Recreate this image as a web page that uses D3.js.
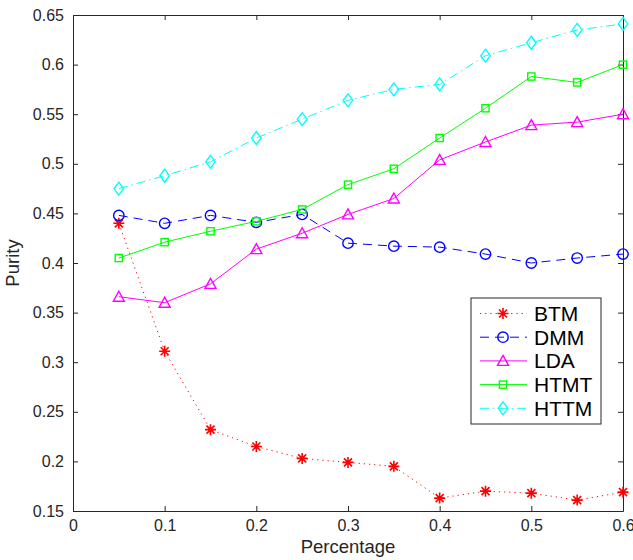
<!DOCTYPE html>
<html>
<head>
<meta charset="utf-8">
<script src="https://cdn.jsdelivr.net/npm/d3@7"></script>
<style>
  body { margin: 0; background: #fff; }
  svg { font-family: "Liberation Sans", Arial, Helvetica, sans-serif; }
</style>
</head>
<body>
<div id="chart"></div>
<script>
const percentages = [0.05, 0.1, 0.15, 0.2, 0.25, 0.3, 0.35, 0.4, 0.45, 0.5, 0.55, 0.6];
const btm  = [0.440, 0.311, 0.232, 0.215, 0.203, 0.199, 0.195, 0.163, 0.170, 0.168, 0.161, 0.169];
const dmm  = [0.448, 0.440, 0.448, 0.441, 0.449, 0.420, 0.417, 0.416, 0.409, 0.400, 0.405, 0.409];
const lda  = [0.366, 0.360, 0.379, 0.414, 0.430, 0.449, 0.465, 0.504, 0.522, 0.539, 0.542, 0.550];
const htmt = [0.405, 0.421, 0.432, 0.442, 0.454, 0.479, 0.495, 0.526, 0.556, 0.588, 0.582, 0.600];
const httm = [0.475, 0.488, 0.502, 0.526, 0.545, 0.564, 0.575, 0.580, 0.609, 0.622, 0.635, 0.641];
const seriesNames = ["BTM", "DMM", "LDA", "HTMT", "HTTM"];
const xTicks = [0, 0.1, 0.2, 0.3, 0.4, 0.5, 0.6];
const yTicks = [0.15, 0.2, 0.25, 0.3, 0.35, 0.4, 0.45, 0.5, 0.55, 0.6, 0.65];

const series = [
  { name: "BTM",  values: btm,  color: "#ff0000", dash: "1.2,4",        marker: "star" },
  { name: "DMM",  values: dmm,  color: "#0000ff", dash: "9,6",          marker: "circle" },
  { name: "LDA",  values: lda,  color: "#ff00ff", dash: null,           marker: "triangle" },
  { name: "HTMT", values: htmt, color: "#00ff00", dash: null,           marker: "square" },
  { name: "HTTM", values: httm, color: "#00ffff", dash: "9,4,1.5,4",    marker: "diamond" }
];

const margin = { top: 15, right: 10, bottom: 49, left: 73 };
const width = 633 - margin.left - margin.right;
const height = 560 - margin.top - margin.bottom;

const svg = d3.select("#chart")
  .append("svg")
  .attr("width", 633)
  .attr("height", 560)
  .append("g")
  .attr("transform", "translate(" + margin.left + "," + margin.top + ")");

const xScale = d3.scaleLinear().domain([0, 0.6]).range([0, width]);
const yScale = d3.scaleLinear().domain([0.15, 0.65]).range([height, 0]);

const axisColor = "#262626";

// axes with inward ticks on all four sides
const axes = [
  { axis: d3.axisBottom(xScale).tickValues(xTicks).tickFormat(d3.format("")), t: "translate(0," + height + ")", labels: true },
  { axis: d3.axisTop(xScale).tickValues(xTicks), t: "translate(0,0)", labels: false },
  { axis: d3.axisLeft(yScale).tickValues(yTicks).tickFormat(d3.format("")), t: "translate(0,0)", labels: true },
  { axis: d3.axisRight(yScale).tickValues(yTicks), t: "translate(" + width + ",0)", labels: false }
];
axes.forEach(a => {
  const g = svg.append("g")
    .attr("transform", a.t)
    .call(a.axis.tickSizeInner(-5).tickSizeOuter(0).tickPadding(9));
  g.select(".domain").attr("stroke", axisColor);
  g.selectAll(".tick line").attr("stroke", axisColor);
  g.selectAll(".tick text")
    .attr("fill", axisColor)
    .style("font-size", "16px")
    .style("display", a.labels ? null : "none");
});

const line = d3.line()
  .x((d, i) => xScale(percentages[i]))
  .y(d => yScale(d));

function drawMarker(g, type, color) {
  if (type === "circle") {
    g.append("circle").attr("r", 5.2);
  } else if (type === "square") {
    g.append("rect").attr("x", -3.6).attr("y", -3.6).attr("width", 7.2).attr("height", 7.2);
  } else if (type === "triangle") {
    g.append("path").attr("d", "M0,-5.5L5.5,4.5L-5.5,4.5Z");
  } else if (type === "diamond") {
    g.append("path").attr("d", "M0,-6.5L4.8,0L0,6.5L-4.8,0Z");
  } else if (type === "star") {
    g.append("path").attr("d", "M-5.5,0L5.5,0M0,-5.5L0,5.5M-4,-4L4,4M-4,4L4,-4").attr("stroke-width", 1.6);
  }
  g.selectAll("*")
    .attr("fill", "none")
    .attr("stroke", color)
    .filter(function() { return !this.getAttribute("stroke-width"); })
    .attr("stroke-width", 1.4);
}

series.forEach(s => {
  svg.append("path")
    .datum(s.values)
    .attr("d", line)
    .attr("fill", "none")
    .attr("stroke", s.color)
    .attr("stroke-width", 1)
    .attr("stroke-dasharray", s.dash);

  svg.selectAll(".mk-" + s.name)
    .data(s.values)
    .enter()
    .append("g")
    .attr("class", "mk-" + s.name)
    .attr("transform", (d, i) => "translate(" + xScale(percentages[i]) + "," + yScale(d) + ")")
    .each(function() { drawMarker(d3.select(this), s.marker, s.color); });
});

// axis labels
svg.append("text")
  .attr("x", width / 2)
  .attr("y", height + 42)
  .attr("text-anchor", "middle")
  .attr("fill", axisColor)
  .style("font-size", "18.5px")
  .text("Percentage");

svg.append("text")
  .attr("transform", "rotate(-90)")
  .attr("x", -height / 2)
  .attr("y", -54)
  .attr("text-anchor", "middle")
  .attr("fill", axisColor)
  .style("font-size", "18.5px")
  .text("Purity");

// legend
const legend = svg.append("g")
  .attr("transform", "translate(" + (471 - margin.left) + "," + (298 - margin.top) + ")");

legend.append("rect")
  .attr("width", 130)
  .attr("height", 126)
  .attr("fill", "#fff")
  .attr("stroke", axisColor)
  .attr("stroke-width", 1);

series.forEach((s, i) => {
  const y = 15.5 + i * 23.7;
  legend.append("line")
    .attr("x1", 9).attr("x2", 56)
    .attr("y1", y).attr("y2", y)
    .attr("stroke", s.color)
    .attr("stroke-width", 1)
    .attr("stroke-dasharray", s.dash);
  const m = legend.append("g").attr("transform", "translate(32," + y + ")");
  drawMarker(m, s.marker, s.color);
  legend.append("text")
    .attr("x", 63)
    .attr("y", y)
    .attr("dy", "0.36em")
    .attr("fill", "#000")
    .style("font-size", "21px")
    .text(seriesNames[i]);
});
</script>
</body>
</html>
